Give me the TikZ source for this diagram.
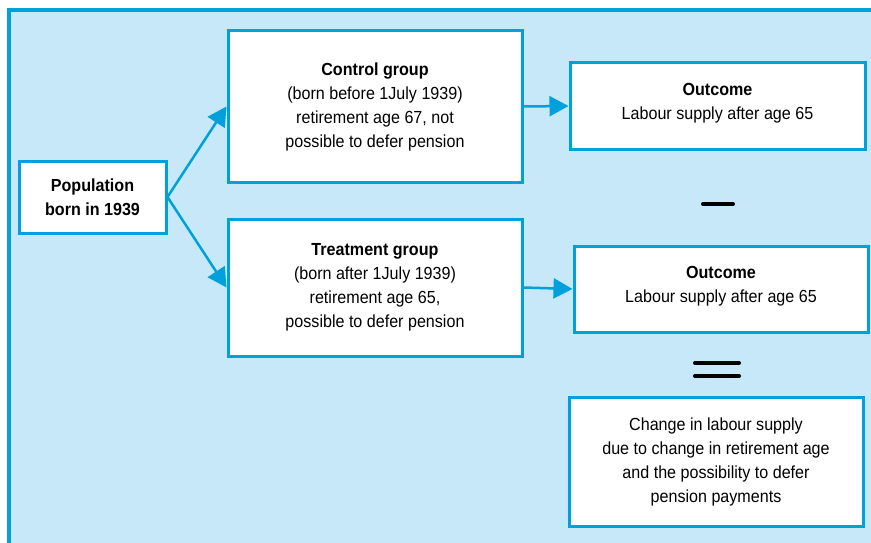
\documentclass[tikz,border=0pt]{standalone}
\usepackage{fontspec}
\setmainfont{Liberation Sans}[FakeStretch=0.92]
\usetikzlibrary{arrows.meta}

\definecolor{lineblue}{RGB}{0,160,220}
\definecolor{paleblue}{RGB}{198,232,249}

\tikzset{
    box/.style={draw=lineblue, line width=3pt, fill=white, inner sep=0pt,
        align=center, font=\fontsize{17.5}{24}\selectfont},
    link/.style={draw=lineblue, line width=2.5pt, -{Triangle[length=19pt,width=20pt]}},
    sign/.style={line width=4pt, line cap=round}
}

\begin{document}
\begin{tikzpicture}[x=1pt,y=-1pt]
\useasboundingbox (0,0) rectangle (871,543);
\clip (0,0) rectangle (871,543);
\fill[white] (0,0) rectangle (871,543);
\draw[draw=lineblue, fill=paleblue, line width=3.5pt] (9,10) rectangle (890,570);

\node[box, minimum width=147pt, minimum height=72pt] (pop) at (92.5,197)
    {\textbf{Population}\\\textbf{born in 1939}};
\node[box, minimum width=294pt, minimum height=151pt] (ctrl) at (375,106.5)
    {\textbf{Control group}\\(born before 1July 1939)\\retirement age 67, not\\possible to defer pension};
\node[box, minimum width=294pt, minimum height=137pt] (treat) at (375,287.5)
    {\textbf{Treatment group}\\(born after 1July 1939)\\retirement age 65,\\possible to defer pension};
\node[box, minimum width=295pt, minimum height=86pt] (out1) at (717.5,106)
    {\textbf{Outcome}\\Labour supply after age 65\\[-14pt]};
\node[box, minimum width=294pt, minimum height=86pt] (out2) at (721,289)
    {\textbf{Outcome}\\Labour supply after age 65\\[-14pt]};
\node[box, minimum width=294pt, minimum height=129pt] (change) at (716,461.5)
    {Change in labour supply\\due to change in retirement age\\and the possibility to defer\\pension payments};

\draw[link] (pop.east) -- (ctrl.west);
\draw[link] (pop.east) -- (treat.west);
\draw[link] (ctrl.east) -- (out1.west);
\draw[link] (treat.east) -- (out2.west);

\draw[sign] (703,204) -- (733,204);
\draw[sign] (695,363) -- (739,363);
\draw[sign] (695,376) -- (739,376);

\end{tikzpicture}
\end{document}
